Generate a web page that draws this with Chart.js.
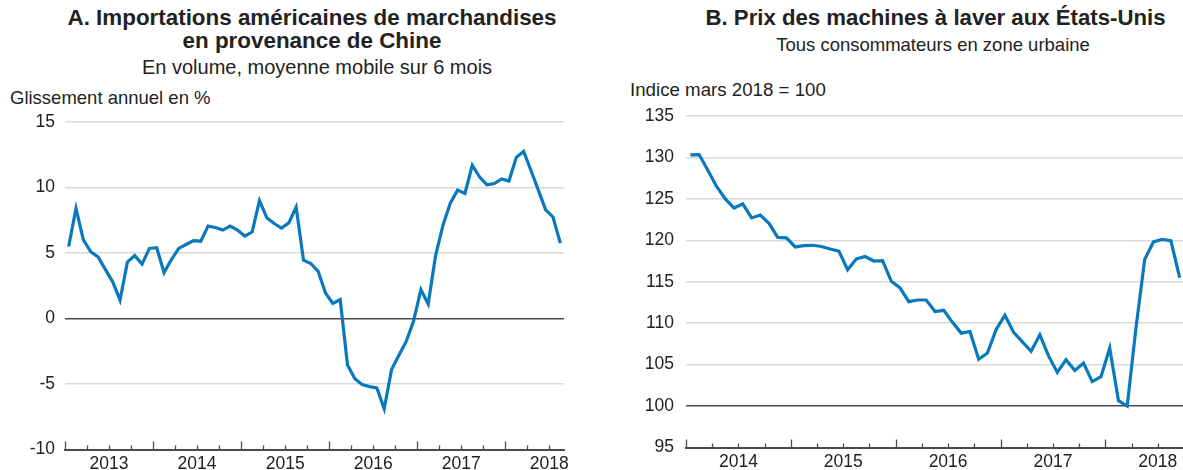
<!DOCTYPE html>
<html lang="fr">
<head>
<meta charset="utf-8">
<script src="https://cdn.jsdelivr.net/npm/chart.js@4.4.1/dist/chart.umd.min.js"></script>
<style>
  html, body { margin: 0; padding: 0; background: #fff; overflow: hidden; }
  body { width: 1183px; height: 470px; position: relative; font-family: "Liberation Sans", Arial, Helvetica, sans-serif; color: #222; }
  .txt { position: absolute; white-space: nowrap; }
  .title { font-weight: bold; font-size: 22.4px; line-height: 23px; text-align: center; }
  .sub { font-size: 19px; line-height: 19px; text-align: center; }
  .unit { font-size: 18.5px; line-height: 18px; }
  .box { position: absolute; top: 0; height: 470px; }
</style>
</head>
<body>
<div class="txt title" style="left:0; width:624px; top:6px;">A. Importations américaines de marchandises<br>en provenance de Chine</div>
<div class="txt sub" style="left:0; width:634px; top:58px; font-size:20px;">En volume, moyenne mobile sur 6 mois</div>
<div class="txt unit" style="left:10px; top:89px;">Glissement annuel en %</div>

<div class="txt title" style="left:600px; width:671px; top:6px; font-size:22.2px;">B. Prix des machines à laver aux États-Unis</div>
<div class="txt sub" style="left:600px; width:666px; top:35px; font-size:18.5px;">Tous consommateurs en zone urbaine</div>
<div class="txt unit" style="left:630px; top:81px; font-size:18.7px;">Indice mars 2018 = 100</div>

<div class="box" style="left:0; width:580px;"><canvas id="chartA"></canvas></div>
<div class="box" style="left:600px; width:600px;"><canvas id="chartB"></canvas></div>

<script>
// --- Data: A. US merchandise imports from China (monthly, from Jan 2013) ---
const yearsA = ['2013', '2014', '2015', '2016', '2017', '2018'];
const valuesA = [
  5.5, 8.4, 6.0, 5.1, 4.7, 3.75, 2.8, 1.4, 4.3, 4.8, 4.15, 5.35,
  5.4, 3.5, 4.5, 5.35, 5.65, 5.95, 5.9, 7.05, 6.95, 6.75, 7.05, 6.75,
  6.3, 6.6, 9.0, 7.7, 7.25, 6.9, 7.3, 8.5, 4.45, 4.2, 3.6, 1.95,
  1.15, 1.45, -3.55, -4.6, -5.05, -5.2, -5.3, -6.9, -3.9, -2.8, -1.75, -0.2,
  2.2, 1.1, 4.8, 7.1, 8.8, 9.8, 9.55, 11.7, 10.8, 10.2, 10.3, 10.65,
  10.5, 12.3, 12.75, 11.3, 9.8, 8.3, 7.75, 5.75
];
const yTicksA = [-10, -5, 0, 5, 10, 15];

// --- Data: B. Washing machine prices, index Mar 2018 = 100 (monthly, from Jan 2014) ---
const yearsB = ['2014', '2015', '2016', '2017', '2018'];
const valuesB = [
  130.3, 130.35, 128.45, 126.5, 125.0, 123.9, 124.4, 122.7, 123.05, 122.05, 120.35, 120.3,
  119.2, 119.35, 119.4, 119.25, 118.95, 118.7, 116.45, 117.75, 118.05, 117.5, 117.55, 115.05,
  114.25, 112.6, 112.8, 112.8, 111.4, 111.55, 110.1, 108.8, 109.0, 105.65, 106.4, 109.25,
  110.95, 108.9, 107.75, 106.6, 108.6, 106.05, 104.05, 105.6, 104.3, 105.2, 102.95, 103.55,
  107.0, 100.65, 100.0, 109.4, 117.7, 119.8, 120.1, 119.95, 115.5
];
const yTicksB = [95, 100, 105, 110, 115, 120, 125, 130, 135];

const FONT = '"Liberation Sans", Arial, Helvetica, sans-serif';
const TEXT = '#222';
const BLUE = '#0a78bd';
const GRID = '#d9d9d9';
const DARK = '#4a4a4a';

// quarterly tick marks pointing up from the x axis
const quarterTicks = {
  id: 'quarterTicks',
  afterDatasetsDraw(chart) {
    const x = chart.scales.x;
    const c = chart.ctx;
    const bottom = chart.chartArea.bottom;
    c.save();
    c.strokeStyle = DARK;
    c.lineWidth = 1.3;
    for (let m = 0; m <= x.max; m += 3) {
      const px = Math.round(x.getPixelForValue(m)) + 0.5;
      const len = m % 12 === 0 ? 8 : 4;
      c.beginPath();
      c.moveTo(px, bottom);
      c.lineTo(px, bottom - len);
      c.stroke();
    }
    c.restore();
  }
};

function makeChart(id, values, years, yTicks, refValue, opts) {
  const points = values.map((v, i) => ({ x: i + 0.5, y: v }));
  return new Chart(document.getElementById(id), {
    type: 'line',
    data: {
      datasets: [{
        data: points,
        borderColor: BLUE,
        borderWidth: 3.2,
        pointRadius: 0,
        tension: 0,
        fill: false,
        borderJoinStyle: 'miter'
      }]
    },
    plugins: [quarterTicks],
    options: {
      responsive: true,
      maintainAspectRatio: false,
      animation: false,
      events: [],
      layout: { padding: opts.padding },
      plugins: { legend: { display: false }, tooltip: { enabled: false } },
      scales: {
        x: {
          type: 'linear',
          min: 0,
          max: opts.xMax,
          grid: { display: false, drawTicks: false },
          border: { display: true, color: DARK, width: 2 },
          afterBuildTicks(scale) {
            scale.ticks = years.map((y, i) => ({ value: i * 12 + 6 }));
          },
          afterFit(scale) { scale.height = 20; },
          ticks: {
            autoSkip: false,
            maxRotation: 0,
            padding: 4,
            color: TEXT,
            font: { family: FONT, size: 17.5 },
            callback: (v) => years[Math.round((v - 6) / 12)]
          }
        },
        y: {
          min: yTicks[0],
          max: yTicks[yTicks.length - 1],
          afterBuildTicks(scale) {
            scale.ticks = yTicks.map(v => ({ value: v }));
          },
          afterFit(scale) { scale.width = opts.yWidth; },
          grid: {
            drawTicks: false,
            color: (ctx) => ctx.tick && ctx.tick.value === refValue ? DARK : GRID,
            lineWidth: (ctx) => ctx.tick && ctx.tick.value === refValue ? 1.6 : 1.4
          },
          border: { display: false },
          ticks: {
            padding: opts.yPad,
            color: TEXT,
            font: { family: FONT, size: 17.5 }
          }
        }
      }
    }
  });
}

makeChart('chartA', valuesA, yearsA, yTicksA, 0, {
  padding: { top: 122, right: 16, bottom: 0, left: 0 },
  xMax: 68, yWidth: 65, yPad: 10
});
makeChart('chartB', valuesB, yearsB, yTicksB, 100, {
  padding: { top: 116, right: 16, bottom: 0, left: 0 },
  xMax: 57, yWidth: 86, yPad: 12
});
</script>
</body>
</html>
